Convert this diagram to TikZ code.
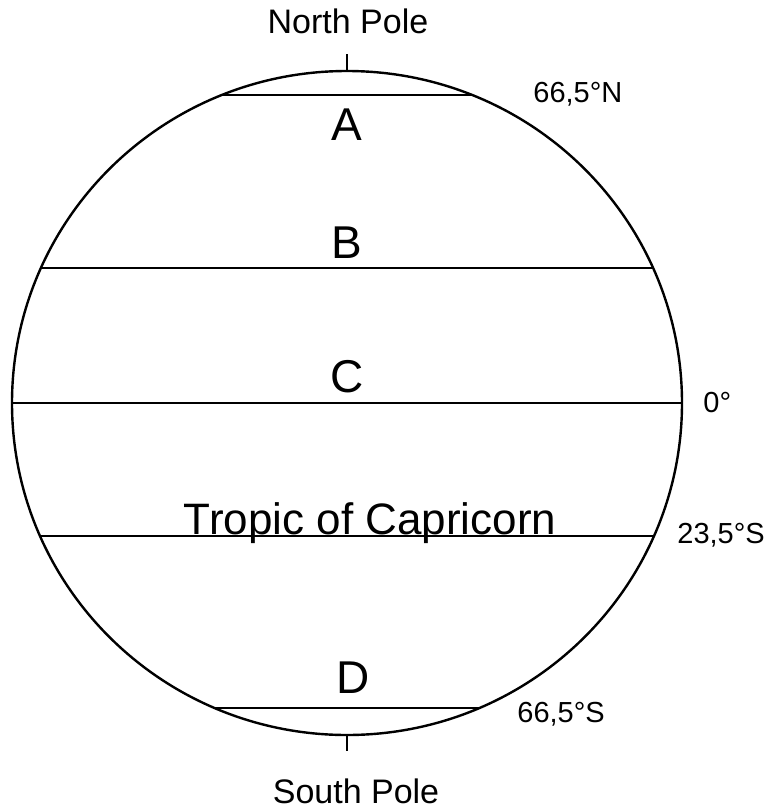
\documentclass[tikz,border=0pt]{standalone}
\usepackage{fontspec}
\setmainfont{Liberation Sans}
\begin{document}
\begin{tikzpicture}[x=0.5pt,y=-0.5pt,
    lat/.style={line width=1pt},
    zone/.style={font=\fontsize{23}{23}\selectfont,anchor=base},
    deg/.style={font=\fontsize{14.5}{14.5}\selectfont,anchor=base west,inner sep=0pt},
    pole/.style={font=\fontsize{17}{17}\selectfont,anchor=base}]
  \useasboundingbox (0,0) rectangle (767,809);
  \coordinate (ctr) at (347,403);
  % latitude lines, cut off by the globe
  \begin{scope}
    \clip (ctr) ellipse[x radius=335,y radius=332];
    \foreach \y in {95,268,403,536,708}
      \draw[lat] (0,\y) -- (767,\y);
  \end{scope}
  \draw[line width=1.2pt] (ctr) ellipse[x radius=335,y radius=332];
  % pole ticks
  \coordinate (np) at (347,71);
  \coordinate (sp) at (347,735);
  \draw[lat] (np) -- ++(0,-17);
  \draw[lat] (sp) -- ++(0,16);
  \node[pole] (ntxt) at (348,33) {North Pole};
  \node[pole] (stxt) at (356,803) {South Pole};
  % zones
  \node[zone] (za) at (347,140) {A};
  \node[zone] (zb) at (347,258) {B};
  \node[zone] (zc) at (347,392) {C};
  \node[zone] (zd) at (353,693) {D};
  \node[font=\fontsize{22}{22}\selectfont,anchor=base] (trop) at (370,534) {Tropic of Capricorn};
  % degrees
  \node[deg] (n665) at (533,102) {66,5°N};
  \node[deg] (eq) at (703,412) {0°};
  \node[deg] (s235) at (677,543) {23,5°S};
  \node[deg] (s665) at (517,722) {66,5°S};
\end{tikzpicture}
\end{document}
